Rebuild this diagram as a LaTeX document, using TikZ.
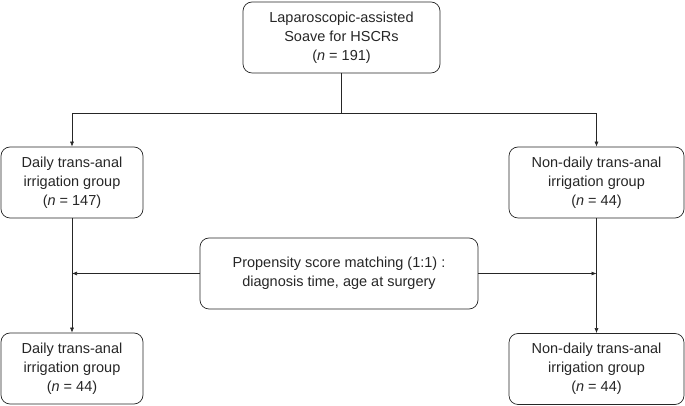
\documentclass[tikz,border=0pt]{standalone}
\usepackage{fontspec}
\setmainfont{Liberation Sans}
\usetikzlibrary{arrows.meta,positioning}

\begin{document}
\begin{tikzpicture}
		[x=1pt, y=1pt,
		mybox/.style={
			rectangle,
			rounded corners=9pt,
			draw=black!85,
			line width=0.7pt,
			align=center,
			text=black!85,
			font=\fontsize{14.5}{19}\selectfont,
			minimum height=71pt,
			inner sep=2pt
		},
		myarrow/.style={draw=black!85, line width=0.6pt, -{Latex[length=5pt,width=4pt]}}]
		\useasboundingbox (0,0) rectangle (685,406);
		% boxes
		\node[mybox, minimum width=197pt] (total) at (341.5,368.5)
			{Laparoscopic-assisted\\Soave for HSCRs\\(\textit{n} = 191)};
		\node[mybox, minimum width=142pt] (daily) at (72,223.5)
			{Daily trans-anal\\irrigation group\\(\textit{n} = 147)};
		\node[mybox, minimum width=175pt] (nondaily) at (596.5,223.5)
			{Non-daily trans-anal\\irrigation group\\(\textit{n} = 44)};
		\node[mybox, minimum width=278pt] (psm) at (339,132.5)
			{Propensity score matching (1:1) :\\diagnosis time, age at surgery};
		\node[mybox, minimum width=142pt] (dailym) at (72,37.5)
			{Daily trans-anal\\irrigation group\\(\textit{n} = 44)};
		\node[mybox, minimum width=175pt] (nondailym) at (596.5,37)
			{Non-daily trans-anal\\irrigation group\\(\textit{n} = 44)};
		% split
		\coordinate (split) at (341.5,293);
		\draw[draw=black!85, line width=0.6pt] (total.south) -- (split);
		\draw[myarrow] (split) -| (daily.north);
		\draw[myarrow] (split) -| (nondaily.north);
		% matching
		\draw[myarrow] (daily.south) -- (dailym.north);
		\draw[myarrow] (nondaily.south) -- (nondailym.north);
		\draw[myarrow] (psm.west) -- (daily.south |- psm.west);
		\draw[myarrow] (psm.east) -- (nondaily.south |- psm.east);
	\end{tikzpicture}
\end{document}
